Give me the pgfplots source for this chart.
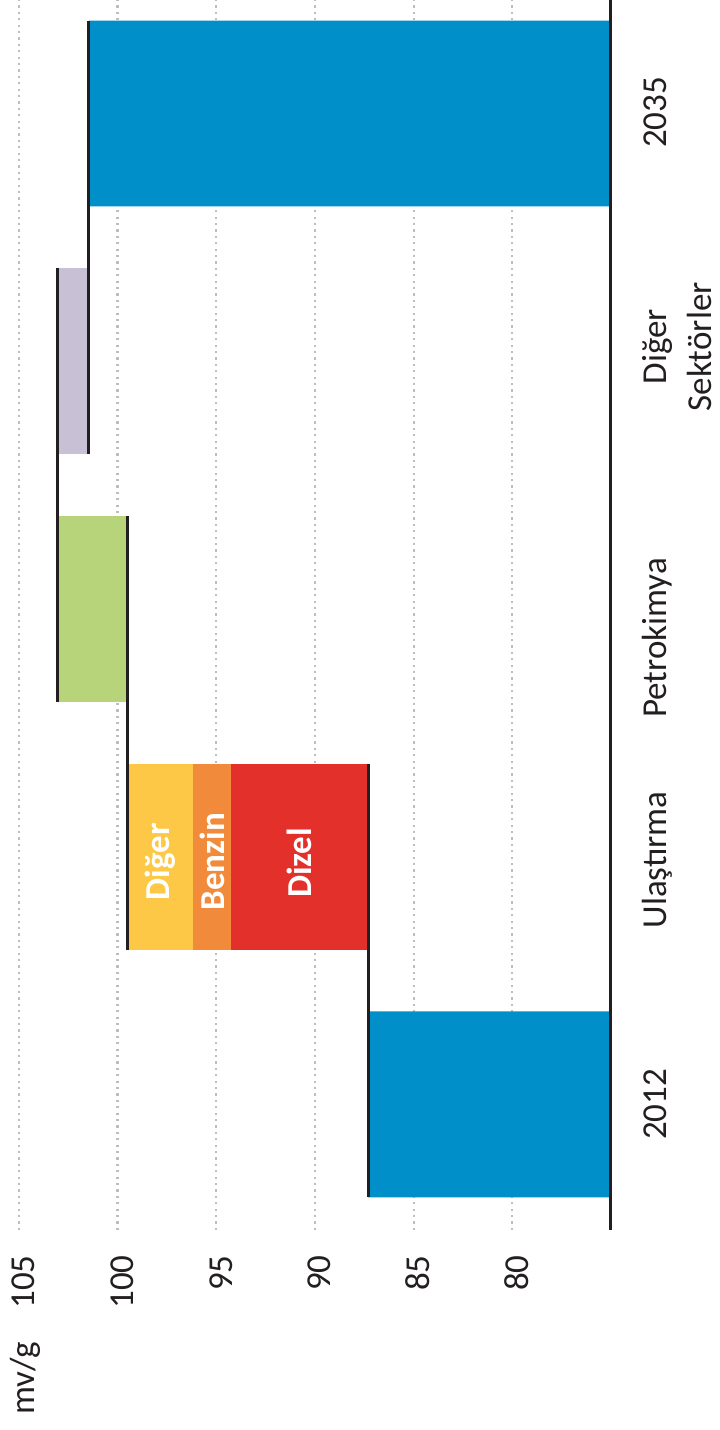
\documentclass[border=0pt]{standalone}
\usepackage{pgfplots}
\usepackage{pgfplotstable}
\pgfplotsset{compat=1.18}
\usepackage{fontspec}
\setmainfont{Carlito}

\definecolor{cBlue}{RGB}{0,143,201}
\definecolor{cRed}{RGB}{228,48,42}
\definecolor{cOrange}{RGB}{241,139,59}
\definecolor{cYellow}{RGB}{253,200,70}
\definecolor{cGreen}{RGB}{183,212,122}
\definecolor{cPurple}{RGB}{200,192,212}
\definecolor{cLine}{RGB}{35,31,32}
\definecolor{cGrid}{RGB}{190,190,190}

\newcommand{\lbl}{\fontsize{17.5}{22.5}\selectfont}
% two-line category name whose baseline is that of its first line
\newcommand{\twolines}[2]{{\setlength{\tabcolsep}{0pt}\begin{tabular}[t]{c}#1\\#2\end{tabular}}}

% waterfall: invisible base, start/end totals, and the steps in between (mv/g)
\pgfplotstableread{
pos  base    total   dizel  benzin  diger  petro  other
0    0       87.3    0      0       0      0      0
1    87.3    0       6.95   1.95    3.3    0      0
2    99.5    0       0      0       0      3.55   0
3    101.45  0       0      0       0      0      1.6
4    0       101.45  0      0       0      0      0
}\wfdata

\pgfplotsset{
  wfframe/.style={
    at={(0pt,0pt)}, anchor=south west,
    scale only axis, width=305.5pt, height=615pt,
    x dir=reverse,
    xmin=75, xmax=105.96,
    ymin=-0.507, ymax=4.458,
  }
}

\begin{document}
\begin{tikzpicture}
\begin{axis}[
  wfframe,
  xbar stacked, bar width=0.75,
  clip mode=individual,
  axis line style={draw=none},
  major tick length=0pt,
  xtick={80,85,...,105},
  /pgf/number format/assume math mode=true,
  xticklabel style={font=\lbl, text=cLine, inner sep=0pt,
    xshift=8pt, yshift=-12.5pt, rotate=90, anchor=base east},
  xmajorgrids,
  grid style={cGrid, line width=1.1pt, dash pattern=on 1.1pt off 2.1pt},
  ytick={0,0.987,1.883,3.058,4.004},
  yticklabels={2012,Ulaştırma,Petrokimya,{\twolines{Diğer}{Sektörler}},2035},
  yticklabel pos=right,
  yticklabel style={font=\lbl, text=cLine, inner sep=0pt,
    xshift=28pt, rotate=90, anchor=base},
]
\addplot[draw=none, fill=none] table[x=base, y=pos] {\wfdata};
\addplot[draw=none, fill=cBlue] table[x=total, y=pos] {\wfdata};
\addplot[draw=none, fill=cRed] table[x=dizel, y=pos] {\wfdata};
\addplot[draw=none, fill=cOrange] table[x=benzin, y=pos] {\wfdata};
\addplot[draw=none, fill=cYellow] table[x=diger, y=pos] {\wfdata};
\addplot[draw=none, fill=cGreen] table[x=petro, y=pos] {\wfdata};
\addplot[draw=none, fill=cPurple] table[x=other, y=pos] {\wfdata};
\end{axis}

\begin{axis}[wfframe, axis lines=none, clip=false]
\draw[cLine, line width=1.5pt] (axis cs:75,-0.507) -- (axis cs:75,4.458);
% level lines joining consecutive bars
\addplot[cLine, line width=1.5pt] coordinates {(87.3,-0.375) (87.3,1.375)};
\addplot[cLine, line width=1.5pt] coordinates {(99.5,0.625) (99.5,2.375)};
\addplot[cLine, line width=1.5pt] coordinates {(103.05,1.625) (103.05,3.375)};
\addplot[cLine, line width=1.5pt] coordinates {(101.45,2.625) (101.45,4.375)};
\begin{scope}[every node/.style={rotate=90, font=\bfseries\lbl, text=white, inner sep=0pt}]
\node at (axis cs:97.85,0.98) {Diğer};
\node at (axis cs:95.225,0.98) {Benzin};
\node at (axis cs:90.775,0.975) {Dizel};
\end{scope}
\node[rotate=90, anchor=base east, font=\lbl, text=cLine, inner sep=0pt]
  at (axis cs:104.19,-0.9586) {mv/g};
\end{axis}

\pgfresetboundingbox
\useasboundingbox (0pt,-100pt) rectangle (359.5pt,615pt);
\end{tikzpicture}
\end{document}
